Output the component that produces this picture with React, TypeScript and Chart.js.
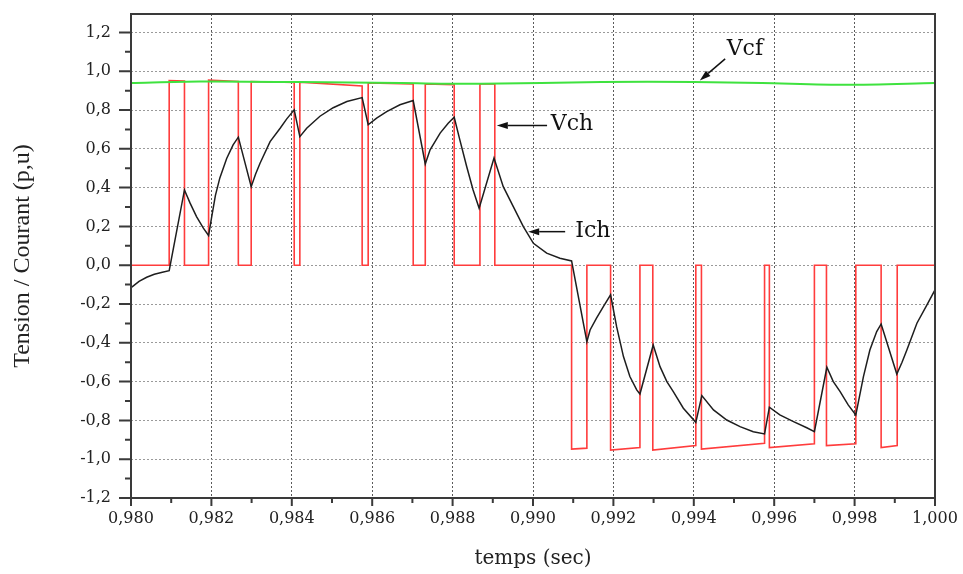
import React, { useEffect, useRef } from 'react';
import { Chart, registerables } from 'chart.js';

Chart.register(...registerables);

// Tension du condensateur de filtrage Vcf (p.u)
const vcfTime = [0.980, 0.9817, 0.9842, 0.9867, 0.9887, 0.9917, 0.9940, 0.9957, 0.9978, 1.000];
const vcfValue = [0.939, 0.947, 0.944, 0.939, 0.935, 0.945, 0.945, 0.939, 0.930, 0.939];

// Tension de charge Vch (p.u) : créneaux
const vchTime = [
  0.980, 0.98095, 0.98095, 0.98133, 0.98133,
  0.98193, 0.98193, 0.98267, 0.98267,
  0.98299, 0.98299, 0.98406, 0.98406,
  0.98420, 0.98420, 0.98575, 0.98575,
  0.98590, 0.98590, 0.98702, 0.98702,
  0.98732, 0.98732, 0.98804, 0.98804,
  0.98868, 0.98868, 0.98905, 0.98905,
  0.99096, 0.99096, 0.99134, 0.99134,
  0.99193, 0.99193, 0.99266, 0.99266,
  0.99298, 0.99298, 0.99405, 0.99405,
  0.99419, 0.99419, 0.99576, 0.99576,
  0.99588, 0.99588, 0.99700, 0.99700,
  0.99730, 0.99730, 0.99803, 0.99803,
  0.99866, 0.99866, 0.99906, 0.99906,
  1.000,
];
const vchValue = [
  0, 0, 0.952, 0.950, 0,
  0, 0.954, 0.947, 0,
  0, 0.947, 0.942, 0,
  0, 0.944, 0.924, 0,
  0, 0.940, 0.935, 0,
  0, 0.935, 0.930, 0,
  0, 0.935, 0.934, 0,
  0, -0.948, -0.943, 0,
  0, -0.953, -0.940, 0,
  0, -0.953, -0.930, 0,
  0, -0.948, -0.918, 0,
  0, -0.940, -0.920, 0,
  0, -0.930, -0.920, 0,
  0, -0.940, -0.930, 0,
  0,
];

// Courant de charge Ich (p.u)
const ichTime = [
  0.98002, 0.98020, 0.98039, 0.98058, 0.98078, 0.98095,
  0.98133, 0.98147, 0.98163, 0.98180, 0.98193,
  0.98200, 0.98210, 0.98221, 0.98238, 0.98254, 0.98267,
  0.98299, 0.98310, 0.98321, 0.98346, 0.98371, 0.98387, 0.98406,
  0.98420, 0.98437, 0.98470, 0.98503, 0.98537, 0.98575,
  0.98590, 0.98611, 0.98636, 0.98669, 0.98702,
  0.98732, 0.98744, 0.98769, 0.98789, 0.98804,
  0.98818, 0.98835, 0.98851, 0.98866,
  0.98903, 0.98926, 0.98951, 0.98976, 0.99001, 0.99034, 0.99067, 0.99096,
  0.99134, 0.99142, 0.99158, 0.99175, 0.99193,
  0.99208, 0.99225, 0.99241, 0.99258, 0.99266,
  0.99299, 0.99316, 0.99333, 0.99349, 0.99374, 0.99405,
  0.99420, 0.99449, 0.99482, 0.99515, 0.99548, 0.99576,
  0.99588, 0.99614, 0.99648, 0.99681, 0.99700,
  0.99731, 0.99747, 0.99764, 0.99784, 0.99803,
  0.99822, 0.99838, 0.99855, 0.99866,
  0.99905, 0.99918, 0.99930, 0.99955, 0.99980, 1.000,
];
const ichValue = [
  -0.113, -0.083, -0.062, -0.047, -0.036, -0.028,
  0.388, 0.320, 0.251, 0.191, 0.153,
  0.240, 0.360, 0.450, 0.550, 0.620, 0.660,
  0.405, 0.470, 0.526, 0.637, 0.706, 0.753, 0.801,
  0.663, 0.706, 0.768, 0.812, 0.844, 0.864,
  0.724, 0.758, 0.792, 0.827, 0.849,
  0.522, 0.595, 0.681, 0.732, 0.763,
  0.646, 0.509, 0.388, 0.294,
  0.552, 0.405, 0.302, 0.199, 0.113, 0.062, 0.036, 0.022,
  -0.394, -0.334, -0.273, -0.213, -0.153,
  -0.317, -0.471, -0.574, -0.643, -0.664,
  -0.411, -0.523, -0.600, -0.652, -0.737, -0.810,
  -0.672, -0.746, -0.798, -0.832, -0.858, -0.870,
  -0.732, -0.772, -0.806, -0.838, -0.858,
  -0.526, -0.600, -0.652, -0.720, -0.772,
  -0.574, -0.437, -0.342, -0.303,
  -0.561, -0.500, -0.437, -0.299, -0.205, -0.127,
];

// Graduations
const xTickValues = [0.980, 0.982, 0.984, 0.986, 0.988, 0.990, 0.992, 0.994, 0.996, 0.998, 1.000];
const xTickLabels = ['0,980', '0,982', '0,984', '0,986', '0,988', '0,990', '0,992', '0,994', '0,996', '0,998', '1,000'];
const yTickValues = [-1.2, -1.0, -0.8, -0.6, -0.4, -0.2, 0.0, 0.2, 0.4, 0.6, 0.8, 1.0, 1.2];
const yTickLabels = ['-1,2', '-1,0', '-0,8', '-0,6', '-0,4', '-0,2', '0,0', '0,2', '0,4', '0,6', '0,8', '1,0', '1,2'];

// Étiquettes des courbes, ancrées en coordonnées (temps, valeur)
const callouts = [
  { text: 'Vcf', at: [0.99527, 1.115], from: [0.99478, 1.064], to: [0.99415, 0.952] },
  { text: 'Vch', at: [0.99097, 0.729], from: [0.99035, 0.720], to: [0.98910, 0.720] },
  { text: 'Ich', at: [0.99149, 0.177], from: [0.99080, 0.173], to: [0.98988, 0.173] },
];

const TICK_FONT = { family: '"DejaVu Serif", serif', size: 16 };

const toPoints = (xs: number[], ys: number[]) => xs.map((x, i) => ({ x, y: ys[i] }));

const midpoints = (vals: number[]) => vals.slice(1).map((v, i) => (v + vals[i]) / 2);

const noScalePadding = (scale: any) => {
  scale.paddingTop = 0;
  scale.paddingBottom = 0;
  scale.paddingLeft = 0;
  scale.paddingRight = 0;
};

const framePlugin = {
  id: 'frame',
  afterDraw(chart: any) {
    const { ctx, chartArea, scales } = chart;
    const { left, right, top, bottom } = chartArea;
    const xs = scales.x;
    const ys = scales.y;
    ctx.save();
    ctx.strokeStyle = '#3a3a3a';
    ctx.lineWidth = 2;
    ctx.beginPath();
    ctx.rect(left, top, right - left, bottom - top);
    ctx.stroke();

    ctx.beginPath();
    yTickValues.forEach((v) => {
      const p = ys.getPixelForValue(v);
      ctx.moveTo(left - 12, p);
      ctx.lineTo(left, p);
    });
    midpoints(yTickValues).forEach((v) => {
      const p = ys.getPixelForValue(v);
      ctx.moveTo(left - 6, p);
      ctx.lineTo(left, p);
    });
    xTickValues.forEach((v) => {
      const p = xs.getPixelForValue(v);
      ctx.moveTo(p, bottom);
      ctx.lineTo(p, bottom + 8);
    });
    midpoints(xTickValues).forEach((v) => {
      const p = xs.getPixelForValue(v);
      ctx.moveTo(p, bottom);
      ctx.lineTo(p, bottom + 5);
    });
    ctx.stroke();
    ctx.restore();
  },
};

const calloutPlugin = {
  id: 'callouts',
  afterDatasetsDraw(chart: any) {
    const { ctx, scales } = chart;
    const xs = scales.x;
    const ys = scales.y;
    ctx.save();
    ctx.strokeStyle = '#111';
    ctx.fillStyle = '#111';
    ctx.lineWidth = 1.5;
    ctx.font = '22px "DejaVu Serif", serif';
    ctx.textAlign = 'center';
    ctx.textBaseline = 'middle';
    callouts.forEach((c) => {
      const x0 = xs.getPixelForValue(c.from[0]);
      const y0 = ys.getPixelForValue(c.from[1]);
      const x1 = xs.getPixelForValue(c.to[0]);
      const y1 = ys.getPixelForValue(c.to[1]);
      const ang = Math.atan2(y1 - y0, x1 - x0);
      const head = 11;
      const half = 3.5;
      const bx = x1 - head * Math.cos(ang);
      const by = y1 - head * Math.sin(ang);
      ctx.beginPath();
      ctx.moveTo(x0, y0);
      ctx.lineTo(bx, by);
      ctx.stroke();
      ctx.beginPath();
      ctx.moveTo(x1, y1);
      ctx.lineTo(bx - half * Math.sin(ang), by + half * Math.cos(ang));
      ctx.lineTo(bx + half * Math.sin(ang), by - half * Math.cos(ang));
      ctx.closePath();
      ctx.fill();
      ctx.fillText(c.text, xs.getPixelForValue(c.at[0]), ys.getPixelForValue(c.at[1]));
    });
    ctx.restore();
  },
};

export default function App() {
  const canvasRef = useRef<HTMLCanvasElement | null>(null);

  useEffect(() => {
    const canvas = canvasRef.current;
    if (!canvas) return;
    const chart = new Chart(canvas, {
      type: 'scatter',
      data: {
        datasets: [
          {
            label: 'Vcf',
            data: toPoints(vcfTime, vcfValue),
            showLine: true,
            borderColor: '#3fe23f',
            borderWidth: 2,
            pointRadius: 0,
            tension: 0.3,
          },
          {
            label: 'Ich',
            data: toPoints(ichTime, ichValue),
            showLine: true,
            borderColor: '#1e1e1e',
            borderWidth: 1.5,
            pointRadius: 0,
          },
          {
            label: 'Vch',
            data: toPoints(vchTime, vchValue),
            showLine: true,
            borderColor: '#ff3c3c',
            borderWidth: 1.6,
            pointRadius: 0,
          },
        ],
      },
      options: {
        animation: false,
        responsive: false,
        events: [],
        layout: { padding: { top: 14, right: 28, left: 0, bottom: 0 } },
        plugins: {
          legend: { display: false },
          tooltip: { enabled: false },
        },
        scales: {
          x: {
            type: 'linear',
            min: 0.98,
            max: 1.0,
            afterBuildTicks: (scale: any) => {
              scale.ticks = xTickValues.map((value) => ({ value }));
            },
            afterFit: (scale: any) => {
              scale.height = 76;
              noScalePadding(scale);
            },
            ticks: {
              autoSkip: false,
              maxRotation: 0,
              padding: 11,
              color: '#222',
              font: TICK_FONT,
              callback: (_v: any, i: number) => xTickLabels[i],
            },
            grid: {
              color: '#5a5a5a',
              lineWidth: 1,
              drawTicks: false,
            },
            border: { display: false, dash: [2, 2] },
            title: {
              display: true,
              text: 'temps (sec)',
              color: '#222',
              font: { family: '"DejaVu Serif", serif', size: 20 },
              padding: { top: 0, bottom: 3 },
            },
          },
          y: {
            type: 'linear',
            min: -1.2,
            max: 1.295,
            afterBuildTicks: (scale: any) => {
              scale.ticks = yTickValues.map((value) => ({ value }));
            },
            afterFit: (scale: any) => {
              scale.width = 131;
              noScalePadding(scale);
            },
            ticks: {
              autoSkip: false,
              padding: 20,
              color: '#222',
              font: TICK_FONT,
              callback: (_v: any, i: number) => yTickLabels[i],
            },
            grid: {
              color: '#9a9a9a',
              lineWidth: 1,
              drawTicks: false,
            },
            border: { display: false, dash: [2, 2] },
            title: {
              display: true,
              text: 'Tension / Courant (p,u)',
              color: '#222',
              font: { family: '"Liberation Serif", serif', size: 24 },
              padding: { top: 8, bottom: 0 },
            },
          },
        },
      } as any,
      plugins: [framePlugin, calloutPlugin],
    });
    return () => chart.destroy();
  }, []);

  return (
    <div style={{ position: 'absolute', left: 0, top: 0, width: 963, height: 574, background: '#fff' }}>
      <canvas ref={canvasRef} width={963} height={574} />
    </div>
  );
}
